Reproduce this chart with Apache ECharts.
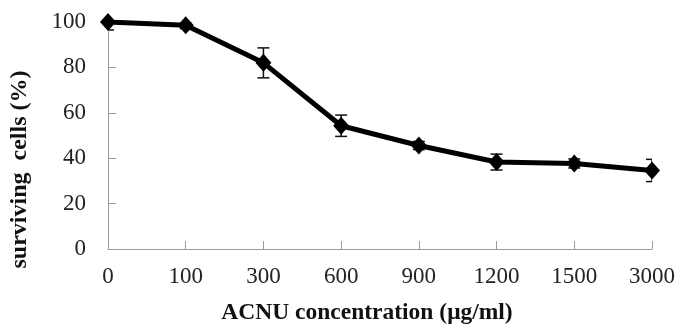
<!DOCTYPE html>
<html>
<head>
<meta charset="utf-8">
<script src="https://cdn.jsdelivr.net/npm/echarts@6/dist/echarts.min.js"></script>
<style>
  html, body { margin: 0; padding: 0; background: #fff; }
  #chart { width: 679px; height: 330px; }
</style>
</head>
<body>
<div id="chart"></div>
<script>
// ACNU dose levels (µg/ml)
const concentrations = ['0', '100', '300', '600', '900', '1200', '1500', '3000'];
// Mean surviving cells (%)
const survival = [100, 98.6, 82, 54.3, 45.6, 38.3, 37.7, 34.6];
// Standard deviation for each dose
const errors = [3.5, 1.5, 6.6, 4.7, 1.8, 3.5, 2.0, 4.9];
// Y axis range
const yMin = 0, yMax = 100, yStep = 20;

const serif = 'Liberation Serif';
const axisGray = '#9a9a9a';

const errorData = survival.map((v, i) => [i, v - errors[i], v + errors[i]]);

const chart = echarts.init(document.getElementById('chart'));
chart.setOption({
  animation: false,
  backgroundColor: '#fff',
  grid: { left: 107, right: 27, top: 22, bottom: 79 },
  xAxis: {
    type: 'category',
    data: concentrations,
    boundaryGap: false,
    name: 'ACNU concentration (μg/ml)',
    nameLocation: 'middle',
    nameGap: 52,
    nameTextStyle: { fontFamily: serif, fontWeight: 'bold', fontSize: 23.5, color: '#111', padding: [0, 26, 0, 0] },
    axisLine: { lineStyle: { color: axisGray, width: 1 } },
    axisTick: { inside: true, length: 8, lineStyle: { color: axisGray } },
    axisLabel: { fontFamily: serif, fontSize: 23, color: '#222', margin: 16 },
    splitLine: { show: false }
  },
  yAxis: {
    type: 'value',
    min: yMin, max: yMax, interval: yStep,
    name: 'surviving  cells (%)',
    nameLocation: 'middle',
    nameGap: 76,
    nameRotate: 90,
    nameTextStyle: { fontFamily: serif, fontWeight: 'bold', fontSize: 24, color: '#111', padding: [0, 68, 0, 0] },
    axisLine: { show: true, lineStyle: { color: axisGray, width: 1 } },
    axisTick: { show: true, inside: true, length: 8, lineStyle: { color: axisGray } },
    axisLabel: { fontFamily: serif, fontSize: 23, color: '#222', margin: 22 },
    splitLine: { show: false }
  },
  series: [
    {
      type: 'custom',
      clip: true,
      z: 3,
      data: errorData,
      renderItem: function (params, api) {
        const x = api.value(0);
        const lo = api.coord([x, api.value(1)]);
        const hi = api.coord([x, api.value(2)]);
        const w = 6;
        const style = { stroke: '#111', lineWidth: 1.5 };
        return {
          type: 'group',
          children: [
            { type: 'line', shape: { x1: lo[0], y1: lo[1], x2: hi[0], y2: hi[1] }, style },
            { type: 'line', shape: { x1: lo[0] - w, y1: lo[1], x2: lo[0] + w, y2: lo[1] }, style },
            { type: 'line', shape: { x1: hi[0] - w, y1: hi[1], x2: hi[0] + w, y2: hi[1] }, style }
          ]
        };
      }
    },
    {
      type: 'line',
      z: 4,
      data: survival,
      symbol: 'diamond',
      symbolSize: [16, 18],
      itemStyle: { color: '#000' },
      lineStyle: { color: '#000', width: 5 }
    }
  ]
});
</script>
</body>
</html>
